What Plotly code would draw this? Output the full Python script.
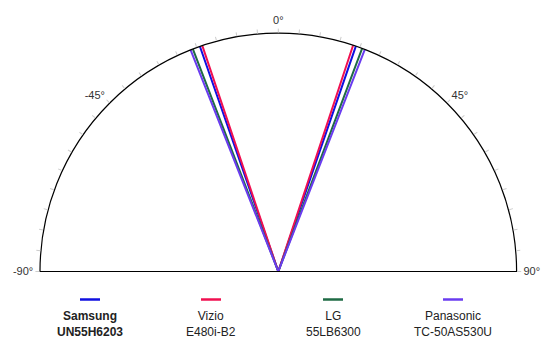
import plotly.graph_objects as go

# Data
models = ["Samsung<br>UN55H6203", "Vizio<br>E480i-B2", "LG<br>55LB6300", "Panasonic<br>TC-50AS530U"]
colors = ["#1010e0", "#f01050", "#1f6b45", "#6a3cf0"]
left_angles = [-19.2, -18.6, -21.0, -21.6]   # degrees from straight-on
right_angles = [19.0, 18.3, 20.6, 21.3]
tick_vals = [-90, -45, 0, 45, 90]
tick_text = ["-90°", "-45°", "0°", "45°", "90°"]

W, H = 552, 353
cx, cy, R = 278.3, 271.5, 238.3

fig = go.Figure()

# flat base of the semicircle
fig.add_trace(go.Scatterpolar(r=[1, 0, 1], theta=[-90, 0, 90], mode="lines",
                              line=dict(color="black", width=1.2), showlegend=False,
                              hoverinfo="skip"))

for name, col, a, b in zip(models, colors, left_angles, right_angles):
    fig.add_trace(go.Scatterpolar(r=[1, 0, 1], theta=[a, 0, b], mode="lines",
                                  line=dict(color=col, width=2), name=name,
                                  showlegend=False))

all_vals = list(range(-90, 91, 5))
all_text = [tick_text[tick_vals.index(v)] if v in tick_vals else "" for v in all_vals]

fig.update_layout(
    width=W, height=H,
    margin=dict(l=0, r=0, t=0, b=0),
    paper_bgcolor="white",
    plot_bgcolor="white",
    font=dict(family="Liberation Sans, Arial, sans-serif", size=11, color="#222"),
    showlegend=False,
    polar=dict(
        domain=dict(x=[(cx - R) / W, (cx + R) / W], y=[(H - cy) / H, (H - cy + R) / H]),
        sector=[0, 180],
        bgcolor="white",
        radialaxis=dict(range=[0, 1], visible=False, showgrid=False),
        angularaxis=dict(rotation=90, direction="clockwise", thetaunit="degrees",
                         tickmode="array", tickvals=all_vals, ticktext=all_text,
                         showgrid=False, showline=True, linecolor="black", linewidth=1.2,
                         ticks="outside", ticklen=4, tickcolor="#cccccc",
                         tickfont=dict(size=11, color="#333")),
    ),
)

# Legend drawn manually: short line above two-line label
leg_x = [90, 211, 333, 453]
for i, (name, col) in enumerate(zip(models, colors)):
    x = leg_x[i]
    fig.add_shape(type="line", xref="paper", yref="paper",
                  x0=(x - 10) / W, x1=(x + 10) / W, y0=(H - 299.5) / H, y1=(H - 299.5) / H,
                  line=dict(color=col, width=2.5))
    label = name
    if i == 0:
        parts = name.split("<br>")
        label = "<b>" + parts[0] + "</b><br><b>" + parts[1] + "</b>"
    fig.add_annotation(xref="paper", yref="paper", x=x / W, y=(H - 324) / H,
                       text=label, showarrow=False, align="center",
                       font=dict(size=12, color="#222"), xanchor="center", yanchor="middle")

fig.write_html("out.html")
